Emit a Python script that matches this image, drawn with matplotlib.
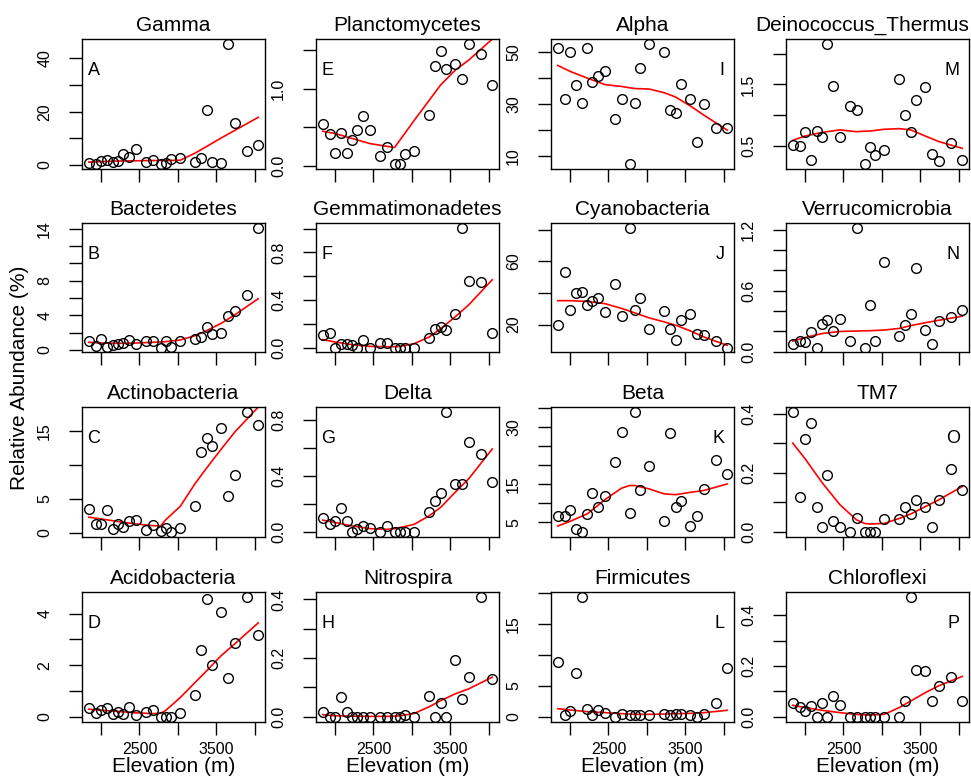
import matplotlib
matplotlib.use('Agg')
import matplotlib.pyplot as plt

plt.rcParams['font.family'] = ['Liberation Sans', 'DejaVu Sans']

## sample elevations (m), shared by every panel
elevation = [1840, 1935, 2000, 2080, 2160, 2225, 2290, 2360, 2455, 2590, 2670, 2775,
             2840, 2915, 3030, 3225, 3295, 3375, 3450, 3565, 3650, 3740, 3895, 4045]
fit_elev = [1840, 2000, 2225, 2455, 2670, 2775, 2840, 3030, 3225, 3375, 3565, 3740, 4045]
elev_ticks = [2000, 2500, 3000, 3500, 4000]
elev_labels = ['', '2500', '', '3500', '']

## column 1
gamma = [0.8, 0.5, 1.5, 2.0, 1.0, 1.5, 4.2, 3.1, 6.0, 1.2, 1.8, 0.5,
         0.8, 2.3, 2.8, 1.0, 2.5, 20.5, 1.0, 0.6, 45.5, 15.7, 5.4, 7.5]
gamma_fit = [1.1, 1.3, 1.5, 1.6, 1.7, 1.7, 1.7, 1.8, 4.5, 7.0, 10.2, 13.0, 17.9]
bacteroidetes = [1.04, 0.5, 1.28, 0.39, 0.54, 0.66, 0.77, 1.16, 0.66, 1.08, 1.04, 0.27,
                 1.08, 0.31, 1.04, 1.28, 1.55, 2.7, 1.86, 1.93, 3.87, 4.56, 6.38, 14.1]
bacteroidetes_fit = [0.89, 0.81, 0.77, 0.81, 0.89, 0.93, 0.97, 1.16, 1.66, 2.24, 3.09, 4.06, 5.92]
actinobacteria = [3.5, 1.3, 1.25, 3.4, 0.55, 1.25, 0.9, 1.7, 1.95, 0.4, 1.15, 0.25,
                  0.75, 0.15, 0.75, 4.0, 12.0, 14.0, 12.8, 15.45, 5.4, 8.5, 17.9, 16.0]
actinobacteria_fit = [2.3, 2.04, 1.65, 1.3, 1.05, 1.0, 1.9, 3.9, 7.3, 9.6, 12.4, 14.9, 18.6]
acidobacteria = [0.36, 0.17, 0.27, 0.36, 0.13, 0.21, 0.13, 0.40, 0.08, 0.21, 0.27, 0.01,
                 0.01, 0.01, 0.14, 0.86, 2.6, 4.58, 2.03, 4.06, 1.49, 2.87, 4.65, 3.19]
acidobacteria_fit = [0.30, 0.26, 0.21, 0.16, 0.13, 0.14, 0.25, 0.75, 1.34, 1.79, 2.38, 2.83, 3.64]

## column 2
planctomycetes = [0.54, 0.42, 0.17, 0.43, 0.17, 0.33, 0.46, 0.65, 0.46, 0.13, 0.25, 0.03,
                  0.03, 0.15, 0.19, 0.66, 1.29, 1.49, 1.26, 1.32, 1.12, 1.58, 1.45, 1.05]
planctomycetes_fit = [0.45, 0.42, 0.355, 0.29, 0.255, 0.24, 0.33, 0.59, 0.85, 1.05, 1.24, 1.37, 1.64]
gemmatimonadetes = [0.11, 0.124, 0.0, 0.034, 0.034, 0.02, 0.0, 0.062, 0.0, 0.04, 0.04, 0.0,
                    0.0, 0.0, 0.0, 0.082, 0.155, 0.175, 0.146, 0.28, 1.006, 0.56, 0.55, 0.127]
gemmatimonadetes_fit = [0.068, 0.048, 0.025, 0.011, 0.008, 0.009, 0.011, 0.034, 0.09, 0.16, 0.26, 0.36, 0.57]
delta = [0.095, 0.058, 0.078, 0.17, 0.078, 0.0, 0.017, 0.04, 0.03, 0.0, 0.04, 0.0,
         0.0, 0.0, 0.0, 0.14, 0.22, 0.28, 0.86, 0.34, 0.34, 0.64, 0.56, 0.36]
delta_fit = [0.083, 0.066, 0.041, 0.022, 0.017, 0.022, 0.029, 0.053, 0.114, 0.175, 0.284, 0.38, 0.593]
nitrospira = [0.015, 0.0, 0.0, 0.066, 0.015, 0.0, 0.0, 0.0, 0.0, 0.0, 0.0, 0.0,
              0.0, 0.007, 0.0, 0.069, 0.0, 0.046, 0.0, 0.195, 0.061, 0.137, 0.409, 0.127]
nitrospira_fit = [0.007, 0.003, 0.002, 0.001, 0.001, 0.002, 0.003, 0.011, 0.034, 0.055, 0.078, 0.095, 0.135]

## column 3
alpha = [51.3, 31.8, 50.0, 37.4, 30.5, 51.3, 38.5, 40.7, 42.8, 24.2, 31.8, 7.0,
         30.5, 43.8, 53.1, 50.0, 27.5, 26.6, 37.7, 31.9, 15.4, 29.9, 20.8, 20.8]
alpha_fit = [44.8, 42.5, 39.9, 37.4, 36.7, 36.2, 35.9, 35.7, 34.3, 32.6, 29.2, 25.7, 19.9]
cyanobacteria = [20.0, 53.1, 29.1, 40.1, 40.4, 32.3, 34.8, 37.0, 28.1, 45.7, 25.3, 81.1,
                 29.1, 36.5, 17.5, 28.7, 17.0, 10.0, 22.8, 26.8, 14.1, 13.2, 9.4, 5.4]
cyanobacteria_fit = [35.1, 35.1, 34.6, 33.2, 30.2, 28.5, 27.4, 24.2, 21.7, 19.6, 16.0, 12.2, 6.9]
beta = [6.7, 6.5, 8.2, 3.2, 2.5, 7.2, 12.6, 9.1, 11.75, 20.8, 28.7, 7.4,
        33.9, 13.5, 19.8, 5.35, 28.4, 9.1, 10.6, 3.9, 6.7, 13.7, 21.2, 17.7]
beta_fit = [4.0, 5.2, 7.2, 10.9, 13.9, 14.6, 14.6, 13.7, 12.4, 12.2, 12.8, 13.3, 15.0]
firmicutes = [8.9, 0.27, 0.97, 7.15, 19.35, 1.24, 0.32, 1.08, 0.59, 0.05, 0.43, 0.32,
              0.27, 0.27, 0.32, 0.43, 0.27, 0.54, 0.43, 0.27, 0.05, 0.54, 2.31, 7.96]
firmicutes_fit = [1.34, 1.13, 0.86, 0.7, 0.54, 0.48, 0.43, 0.43, 0.48, 0.54, 0.59, 0.70, 1.08]

## column 4
deinococcus = [0.52, 0.50, 0.72, 0.27, 0.74, 0.64, 2.16, 1.47, 0.65, 1.15, 1.08, 0.21,
               0.48, 0.35, 0.43, 1.59, 1.0, 0.72, 1.25, 1.45, 0.36, 0.25, 0.54, 0.27]
deinococcus_fit = [0.59, 0.66, 0.72, 0.76, 0.73, 0.74, 0.74, 0.77, 0.78, 0.76, 0.66, 0.57, 0.46]
verrucomicrobia = [0.072, 0.105, 0.092, 0.19, 0.04, 0.27, 0.31, 0.2, 0.32, 0.105, 1.22, 0.04,
                   0.46, 0.105, 0.88, 0.16, 0.26, 0.37, 0.82, 0.21, 0.072, 0.30, 0.34, 0.41]
verrucomicrobia_fit = [0.105, 0.14, 0.18, 0.2, 0.204, 0.206, 0.207, 0.214, 0.23, 0.257, 0.286, 0.31, 0.35]
tm7 = [0.406, 0.119, 0.315, 0.369, 0.082, 0.015, 0.193, 0.0375, 0.017, 0.0, 0.045, 0.0,
       0.0, 0.0, 0.043, 0.042, 0.085, 0.06, 0.106, 0.085, 0.015, 0.108, 0.214, 0.142]
tm7_fit = [0.30, 0.247, 0.165, 0.091, 0.04, 0.028, 0.026, 0.028, 0.045, 0.06, 0.085, 0.108, 0.153]
chloroflexi = [0.056, 0.04, 0.023, 0.042, 0.0, 0.056, 0.0, 0.082, 0.046, 0.0, 0.0, 0.0,
               0.0, 0.0, 0.0, 0.0, 0.06, 0.473, 0.185, 0.181, 0.06, 0.122, 0.155, 0.06]
chloroflexi_fit = [0.045, 0.036, 0.025, 0.016, 0.009, 0.007, 0.007, 0.009, 0.036, 0.062, 0.095, 0.122, 0.159]

## y ticks and which of them carry a label (R drops the overlapping ones)
gamma_ticks, gamma_labels = [0, 10, 20, 30, 40], ['0', '', '20', '', '40']
bact_ticks, bact_labels = [0, 2, 4, 6, 8, 10, 12, 14], ['0', '', '4', '', '8', '', '', '14']
actino_ticks, actino_labels = [0, 5, 10, 15], ['0', '5', '', '15']
acido_ticks, acido_labels = [0, 1, 2, 3, 4], ['0', '', '2', '', '4']
plancto_ticks, plancto_labels = [0.0, 0.5, 1.0, 1.5], ['0.0', '', '1.0', '']
gemma_ticks, gemma_labels = [0.0, 0.2, 0.4, 0.6, 0.8, 1.0], ['0.0', '', '0.4', '', '0.8', '']
delta_ticks, delta_labels = [0.0, 0.2, 0.4, 0.6, 0.8], ['0.0', '', '0.4', '', '0.8']
nitro_ticks, nitro_labels = [0.0, 0.1, 0.2, 0.3, 0.4], ['0.0', '', '0.2', '', '0.4']
alpha_ticks, alpha_labels = [10, 20, 30, 40, 50], ['10', '', '30', '', '50']
cyano_ticks, cyano_labels = [20, 40, 60, 80], ['20', '', '60', '']
beta_ticks, beta_labels = [5, 10, 15, 20, 25, 30, 35], ['5', '', '15', '', '', '30', '']
firmi_ticks, firmi_labels = [0, 5, 10, 15, 20], ['0', '5', '', '15', '']
deino_ticks, deino_labels = [0.5, 1.0, 1.5, 2.0], ['0.5', '', '1.5', '']
verru_ticks, verru_labels = [0.0, 0.2, 0.4, 0.6, 0.8, 1.0, 1.2], ['0.0', '', '', '0.6', '', '', '1.2']
tm7_ticks, tm7_labels = [0.0, 0.1, 0.2, 0.3, 0.4], ['0.0', '', '0.2', '', '0.4']
chloro_ticks, chloro_labels = [0.0, 0.1, 0.2, 0.3, 0.4], ['0.0', '', '0.2', '', '0.4']


def r_range(vals):
    ## R pads the data range by 4% on both sides
    lo, hi = min(vals), max(vals)
    pad = (hi - lo) * 0.04
    return lo - pad, hi + pad


def draw_panel(fig, col, row, title, letter, vals, fit, ticks, labels):
    ## box position in pixels -> figure fraction
    W, H = 971, 779
    left = [82, 316, 551, 786][col]
    top = [39, 223, 407, 592][row]
    bw, bh = 183, 129.5
    ax = fig.add_axes([left / W, 1 - (top + bh) / H, bw / W, bh / H])

    ax.plot(elevation, vals, 'o', mfc='none', mec='black', ms=7, mew=1.0, zorder=3)
    ax.plot(fit_elev, fit, color='red', lw=1.2, zorder=2)

    ax.set_xlim(r_range(elevation))
    ax.set_ylim(r_range(vals))
    ax.set_xticks(elev_ticks)
    if row == 3:
        ax.set_xticklabels(elev_labels, fontsize=11.5)
        ax.set_xlabel('Elevation (m)', fontsize=15, labelpad=0)
    else:
        ax.set_xticklabels([])
    ax.set_yticks(ticks)
    ax.set_yticklabels(labels, rotation=90, va='center', fontsize=11.5)
    ax.tick_params(axis='both', direction='out', length=9.5, width=1, color='black')
    ax.tick_params(axis='y', pad=12)
    ax.tick_params(axis='x', pad=5)
    for s in ax.spines.values():
        s.set_linewidth(1.0)

    ## the long title sits a bit left so it stays inside the figure
    tx = 0.415 if len(title) > 18 else 0.5
    ax.set_title(title, fontsize=15, pad=6, x=tx)
    ## panel letter: left side for first two columns, right side for the rest
    if col < 2:
        ax.text(0.03, 0.76, letter, transform=ax.transAxes, fontsize=13, ha='left', va='center')
    else:
        ax.text(0.95, 0.76, letter, transform=ax.transAxes, fontsize=13, ha='right', va='center')
    return ax


fig = plt.figure(figsize=(9.71, 7.79), dpi=100)

panels = [
    (0, 0, 'Gamma', 'A', gamma, gamma_fit, gamma_ticks, gamma_labels),
    (0, 1, 'Bacteroidetes', 'B', bacteroidetes, bacteroidetes_fit, bact_ticks, bact_labels),
    (0, 2, 'Actinobacteria', 'C', actinobacteria, actinobacteria_fit, actino_ticks, actino_labels),
    (0, 3, 'Acidobacteria', 'D', acidobacteria, acidobacteria_fit, acido_ticks, acido_labels),
    (1, 0, 'Planctomycetes', 'E', planctomycetes, planctomycetes_fit, plancto_ticks, plancto_labels),
    (1, 1, 'Gemmatimonadetes', 'F', gemmatimonadetes, gemmatimonadetes_fit, gemma_ticks, gemma_labels),
    (1, 2, 'Delta', 'G', delta, delta_fit, delta_ticks, delta_labels),
    (1, 3, 'Nitrospira', 'H', nitrospira, nitrospira_fit, nitro_ticks, nitro_labels),
    (2, 0, 'Alpha', 'I', alpha, alpha_fit, alpha_ticks, alpha_labels),
    (2, 1, 'Cyanobacteria', 'J', cyanobacteria, cyanobacteria_fit, cyano_ticks, cyano_labels),
    (2, 2, 'Beta', 'K', beta, beta_fit, beta_ticks, beta_labels),
    (2, 3, 'Firmicutes', 'L', firmicutes, firmicutes_fit, firmi_ticks, firmi_labels),
    (3, 0, 'Deinococcus_Thermus', 'M', deinococcus, deinococcus_fit, deino_ticks, deino_labels),
    (3, 1, 'Verrucomicrobia', 'N', verrucomicrobia, verrucomicrobia_fit, verru_ticks, verru_labels),
    (3, 2, 'TM7', 'O', tm7, tm7_fit, tm7_ticks, tm7_labels),
    (3, 3, 'Chloroflexi', 'P', chloroflexi, chloroflexi_fit, chloro_ticks, chloro_labels),
]
for p in panels:
    draw_panel(fig, *p)

## shared y label
fig.text(20 / 971, 1 - 378 / 779, 'Relative Abundance (%)', rotation=90,
         fontsize=15, ha='center', va='center')

fig.savefig('out.png', dpi=100, facecolor='white')
